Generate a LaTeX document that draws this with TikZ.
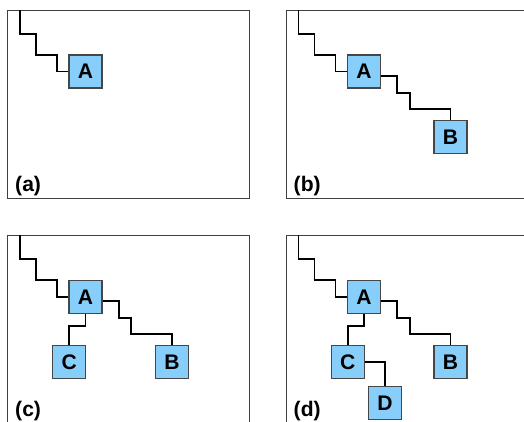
\documentclass[tikz,border=0pt]{standalone}
\usepackage{fontspec}
\setmainfont{Liberation Sans}
\usepackage{tikz}
\definecolor{CellBlue}{RGB}{135,206,250}
\definecolor{CellEdge}{RGB}{70,70,70}
\tikzset{
	cell/.style={draw=CellEdge,fill=CellBlue,line width=0.9pt,minimum size=0.99cm,
		inner sep=0pt,font=\fontsize{18}{20}\selectfont\bfseries},
	wire/.style={draw=black,line width=1.7pt},
	panel/.style={draw=black!75,line width=0.8pt},
	tag/.style={anchor=base west,inner sep=0pt,font=\fontsize{18}{20}\selectfont\bfseries},
}

\begin{document}
\begin{tikzpicture}[x=0.03cm,y=-0.03cm]
	\clip (0,0) rectangle (524,422);
	% (a) only A
	\begin{scope}
		\draw[panel] (7.5,10) rectangle (249.5,198);
		\coordinate (top) at (20,10);
		\node[cell] (A) at (85.5,71.5) {A};
		\draw[wire] (top) -- ++(0,24) -- ++(16,0) -- ++(0,21) -- ++(21,0) |- (A.west);
		\node[tag] (lab) at (15,191.5) {(a)};
	\end{scope}
	% (b) A and B
	\begin{scope}[shift={(278.5,0)}]
		\draw[panel] (7.5,10) rectangle (249.5,198);
		\coordinate (top) at (20,10);
		\node[cell] (A) at (85.5,71.5) {A};
		\node[cell] (B) at (172,137) {B};
		\draw[wire] (top) -- ++(0,24) -- ++(16,0) -- ++(0,21) -- ++(21,0) |- (A.west);
		\draw[wire] (A.-15) -- ++(16,0) -- ++(0,16.5) -- ++(12.5,0) -- ++(0,16) -| (B.north);
		\node[tag] (lab) at (15,191.5) {(b)};
	\end{scope}
	% (c) A, B and C
	\begin{scope}[shift={(0,225.3)}]
		\draw[panel] (7.5,10) rectangle (249.5,198);
		\coordinate (top) at (20,10);
		\node[cell] (A) at (85.5,71.5) {A};
		\node[cell] (B) at (172,137) {B};
		\node[cell] (C) at (69.2,137) {C};
		\draw[wire] (top) -- ++(0,24) -- ++(16,0) -- ++(0,21) -- ++(21,0) |- (A.west);
		\draw[wire] (A.-15) -- ++(16,0) -- ++(0,16.5) -- ++(12.5,0) -- ++(0,16) -| (B.north);
		\draw[wire] (A.south) -- ++(0,12) -| (C.north);
		\node[tag] (lab) at (15,191.5) {(c)};
	\end{scope}
	% (d) A, B, C and D
	\begin{scope}[shift={(278.5,225.3)}]
		\draw[panel] (7.5,10) rectangle (249.5,198);
		\coordinate (top) at (20,10);
		\node[cell] (A) at (85.5,71.5) {A};
		\node[cell] (B) at (172,137) {B};
		\node[cell] (C) at (69.2,137) {C};
		\node[cell] (D) at (106.5,178) {D};
		\draw[wire] (top) -- ++(0,24) -- ++(16,0) -- ++(0,21) -- ++(21,0) |- (A.west);
		\draw[wire] (A.-15) -- ++(16,0) -- ++(0,16.5) -- ++(12.5,0) -- ++(0,16) -| (B.north);
		\draw[wire] (A.south) -- ++(0,12) -| (C.north);
		\draw[wire] (C.east) -| (D.north);
		\node[tag] (lab) at (15,191.5) {(d)};
	\end{scope}
\end{tikzpicture}
\end{document}
